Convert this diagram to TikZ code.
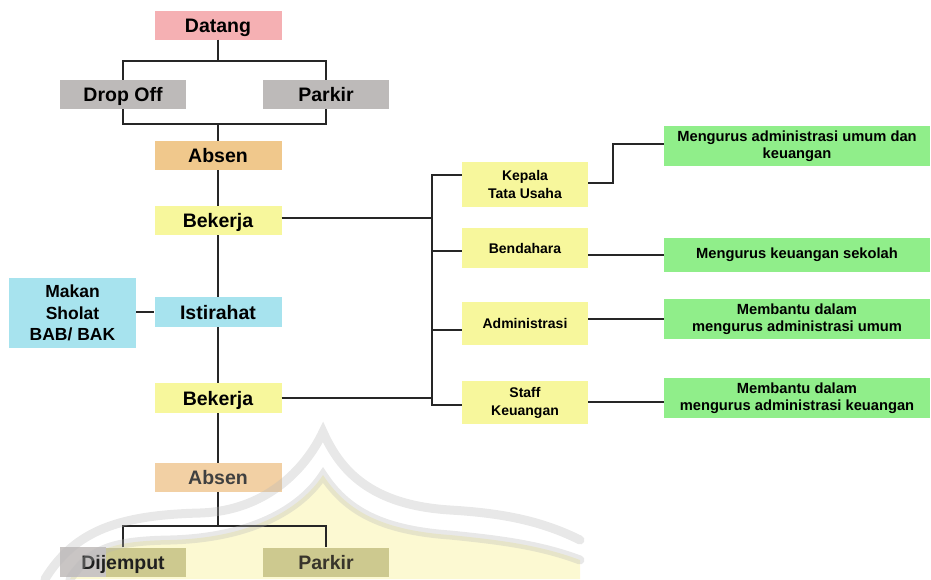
\documentclass[tikz,border=0pt]{standalone}
\usepackage{fontspec}
\setmainfont{Liberation Sans}
\usetikzlibrary{calc}
\definecolor{cPink}{HTML}{F5B0B3}
\definecolor{cGrey}{HTML}{BDBAB9}
\definecolor{cGreyFade}{HTML}{C9C5C4}
\definecolor{cOrange}{HTML}{F0C88C}
\definecolor{cOrangeFade}{HTML}{F2D0A4}
\definecolor{cYellow}{HTML}{F7F79C}
\definecolor{cCyan}{HTML}{A7E3EE}
\definecolor{cGreen}{HTML}{90EE8A}
\definecolor{cLine}{HTML}{262626}
\definecolor{cSealFill}{HTML}{FCF9D2}
\definecolor{cSealBand}{HTML}{B8B8B8}
\definecolor{cOliveBox}{HTML}{CDC98F}
\begin{document}
\begin{tikzpicture}[x=1pt,y=-1pt,
  box/.style={draw=none, inner sep=0pt, align=center, text=black,
    minimum width=127pt, minimum height=29pt,
    font=\bfseries\fontsize{19.5}{21}\selectfont},
  oneline/.style={box, text height=14pt, text depth=0pt},
  sidebox/.style={box, font=\bfseries\fontsize{17.5}{21.5}\selectfont},
  rolebox/.style={box, fill=cYellow, minimum width=126pt,
    font=\bfseries\fontsize{14}{18}\selectfont},
  taskbox/.style={box, fill=cGreen, minimum width=266pt,
    font=\bfseries\fontsize{14.7}{17.5}\selectfont},
  link/.style={draw=cLine, line width=2pt},
  seal/.style={draw=cSealBand, line width=9pt, opacity=0.32, line cap=round}]
\useasboundingbox (0,0) rectangle (931,579);

% faint crest in the lower part, behind the flow
\fill[cSealFill] (70,579) .. controls (90,550) and (110,541) .. (170,540)
  .. controls (250,538) and (300,510) .. (323,475)
  .. controls (346,510) and (380,530) .. (450,535)
  .. controls (500,540) and (540,545) .. (580,560) -- (580,579) -- cycle;

% daily flow
\node[oneline, fill=cPink] (datang) at (218,25) {Datang};
\node[oneline, fill=cGrey, minimum width=126pt] (dropoff) at (123,94.5) {Drop Off};
\node[oneline, fill=cGrey, minimum width=126pt] (parkirA) at (326,94.5) {Parkir};
\node[oneline, fill=cOrange] (absenA) at (218,155.5) {Absen};
\node[oneline, fill=cYellow] (kerjaA) at (218,220.5) {Bekerja};
\node[oneline, fill=cCyan, minimum height=30pt] (istirahat) at (218,312) {Istirahat};
\node[sidebox, fill=cCyan, minimum height=70pt] (makan) at (72.5,313) {Makan\\Sholat\\BAB/ BAK};
\node[oneline, fill=cYellow, minimum height=30pt] (kerjaB) at (218,398) {Bekerja};
\node[oneline, fill=cOrangeFade, text=black!75] (absenB) at (218,477.5) {Absen};
\node[oneline, minimum width=126pt, text=black!88,
  path picture={\fill[cOliveBox] (path picture bounding box.south west) rectangle (path picture bounding box.north east);
                \fill[cGreyFade] (path picture bounding box.south west) rectangle ++(46pt,40pt);}]
  (dijemput) at (123,562) {Dijemput};
\node[oneline, fill=cOliveBox, minimum width=126pt, text=black!80!olive] (parkirB) at (326,562) {Parkir};

% staff roles
\node[rolebox, minimum height=45pt] (kepala) at (525,184.5) {Kepala\\Tata Usaha};
\node[rolebox, minimum height=40pt] (bendahara) at (525,248) {Bendahara};
\node[rolebox, minimum height=43pt] (admin) at (525,323.5) {Administrasi};
\node[rolebox, minimum height=43pt] (staff) at (525,402.5) {Staff\\Keuangan};

% duties
\node[taskbox, minimum height=40pt] (tugasA) at (797,146) {Mengurus administrasi umum dan\\keuangan};
\node[taskbox, minimum height=34pt] (tugasB) at (797,255) {Mengurus keuangan sekolah};
\node[taskbox, minimum height=40pt] (tugasC) at (797,319) {Membantu dalam\\mengurus administrasi umum};
\node[taskbox, minimum height=40pt] (tugasD) at (797,398) {Membantu dalam\\mengurus administrasi keuangan};

% junction points
\coordinate (splitA) at (218,61);
\coordinate (mergeA) at (218,124);
\coordinate (splitB) at (218,526);
\coordinate (busTop) at (432,175);
\coordinate (busBot) at (432,405);
\coordinate (bendA) at (613,183);

% main flow connectors
\draw[link] (datang) -- (splitA);
\draw[link, line join=miter] (dropoff) |- (splitA) -| (parkirA);
\draw[link, line join=miter] (dropoff) |- (mergeA) -| (parkirA);
\draw[link] (mergeA) -- (absenA);
\draw[link] (absenA) -- (kerjaA);
\draw[link] (kerjaA) -- (istirahat);
\draw[link] (istirahat) -- (kerjaB);
\draw[link] (kerjaB) -- (absenB);
\draw[link] (makan.east |- istirahat) -- (istirahat.west);
\draw[link] (absenB) -- (splitB);
\draw[link, line join=miter] (dijemput) |- (splitB) -| (parkirB);

% work to roles
\draw[link] ($(kerjaA.east)+(0,-2.5)$) -- (busTop |- {$(kerjaA.east)+(0,-2.5)$});
\draw[link] (kerjaB.east) -- (kerjaB.east -| busTop);
\draw[link, line join=miter] (kepala.west |- busTop) -| (busBot) -- (staff.west |- busBot);
\draw[link] ($(bendahara.west)+(0,3)$) -- (busTop |- {$(bendahara.west)+(0,3)$});
\draw[link] ($(admin.west)+(0,6.5)$) -- (busTop |- {$(admin.west)+(0,6.5)$});

% roles to duties
\draw[link, line join=miter] ($(kepala.east)+(0,-1.5)$) -- (bendA) |- ($(tugasA.west)+(0,-2)$);
\draw[link] (tugasB.west -| bendahara.east) -- (tugasB.west);
\draw[link] (tugasC.west -| admin.east) -- (tugasC.west);
\draw[link] ($(staff.east)+(0,-0.5)$) -- ($(staff.east -| tugasD.west)+(0,-0.5)$);

% crest outline drawn over the lower boxes
\draw[seal] (45,579) .. controls (75,530) and (120,515) .. (200,513)
  .. controls (265,511) and (305,470) .. (323,432)
  .. controls (340,470) and (370,505) .. (450,510)
  .. controls (500,513) and (540,520) .. (580,540);
\draw[seal] (70,579) .. controls (90,550) and (110,541) .. (170,540)
  .. controls (250,538) and (300,510) .. (323,475)
  .. controls (346,510) and (380,530) .. (450,535)
  .. controls (500,540) and (540,545) .. (580,560);
\end{tikzpicture}
\end{document}
